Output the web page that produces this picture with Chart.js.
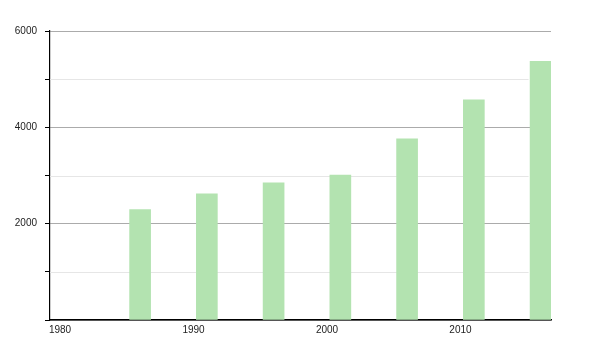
<!DOCTYPE html>
<html>
<head>
<meta charset="utf-8">
<script src="https://cdn.jsdelivr.net/npm/chart.js@4/dist/chart.umd.min.js"></script>
<style>
html,body{margin:0;padding:0;background:#fff;}
#wrap{width:600px;height:350px;position:relative;}
</style>
</head>
<body>
<div id="wrap"><canvas id="c" width="600" height="350"></canvas></div>
<script>
const years = [1986, 1991, 1996, 2001, 2006, 2011, 2016];
const values = [2290, 2620, 2850, 3010, 3760, 4570, 5370];
const xTickYears = [1980, 1990, 2000, 2010];
const yLabeled = [2000, 4000, 6000];
const yMinor = [1000, 3000, 5000];

// light minor grid lines that stop short of the right edge, as in the reference
const minorGrid = {
  id: 'minorGrid',
  beforeDatasetsDraw(chart) {
    const {ctx, chartArea, scales} = chart;
    ctx.save();
    ctx.strokeStyle = '#e6e6e6';
    ctx.lineWidth = 1;
    const xEnd = scales.x.getPixelForValue(2015.1);
    yMinor.forEach(v => {
      const y = Math.round(scales.y.getPixelForValue(v)) + 0.5;
      ctx.beginPath();
      ctx.moveTo(chartArea.left, y);
      ctx.lineTo(xEnd, y);
      ctx.stroke();
    });
    ctx.restore();
  }
};

const ctx = document.getElementById('c').getContext('2d');
new Chart(ctx, {
  type: 'bar',
  data: {
    datasets: [{
      data: years.map((y, i) => ({x: y, y: values[i]})),
      backgroundColor: '#b3e3b0',
      borderWidth: 0,
      barThickness: 21
    }]
  },
  plugins: [minorGrid],
  options: {
    responsive: false,
    animation: false,
    layout: {padding: {top: 31, right: 49, bottom: 0, left: 0}},
    plugins: {legend: {display: false}, tooltip: {enabled: false}},
    scales: {
      x: {
        type: 'linear',
        offset: false,
        min: 1979.25,
        max: 2016.78,
        afterBuildTicks: s => { s.ticks = xTickYears.map(v => ({value: v})); },
        afterFit: s => { s.height = 30; },
        grid: {display: false, drawTicks: false, offset: false},
        border: {display: true, color: '#000', width: 1.5},
        ticks: {
          color: '#222',
          padding: 4,
          maxRotation: 0,
          autoSkip: false,
          font: {family: 'Liberation Sans', size: 10},
          callback: v => String(v)
        }
      },
      y: {
        min: 0,
        max: 6000,
        afterFit: s => { s.width = 50; },
        border: {display: true, color: '#000', width: 1.2},
        grid: {
          color: c => (c.tick && c.tick.value % 2000 === 0) ? '#ababab' : 'rgba(0,0,0,0)',
          tickColor: '#000',
          tickLength: 5,
          lineWidth: 1
        },
        ticks: {
          stepSize: 1000,
          color: '#222',
          padding: 8,
          font: {family: 'Liberation Sans', size: 10},
          callback: v => yLabeled.includes(v) ? String(v) : ''
        }
      }
    }
  }
});
</script>
</body>
</html>
